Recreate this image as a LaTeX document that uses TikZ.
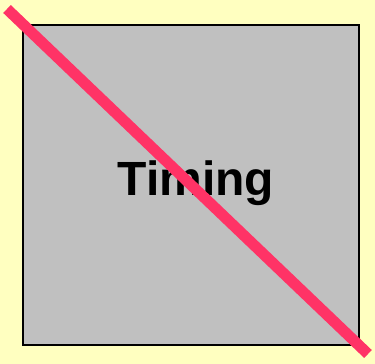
\documentclass[tikz,border=0pt]{standalone}
\usepackage{fontspec}
\setmainfont{Liberation Sans}
\definecolor{bgyellow}{HTML}{FFFFC0}
\definecolor{boxgray}{HTML}{C0C0C0}
\definecolor{strike}{HTML}{FF3366}
\begin{document}
\begin{tikzpicture}[x=1pt,y=-1pt,
  box/.style={draw=black,line width=2pt,fill=boxgray},
  strikeline/.style={draw=strike,line width=11pt,line cap=butt}]
\fill[bgyellow] (0,0) rectangle (375,364);
\useasboundingbox (0,0) rectangle (375,364);
\draw[box] (23,25) rectangle (359,345);
\node[font=\bfseries\fontsize{48}{52}\selectfont,inner sep=0pt,anchor=base] (label) at (196,195) {Timing};
\coordinate (s) at (7,9);
\coordinate (e) at (368,354);
\draw[strikeline] (s) -- (e);
\end{tikzpicture}
\end{document}
